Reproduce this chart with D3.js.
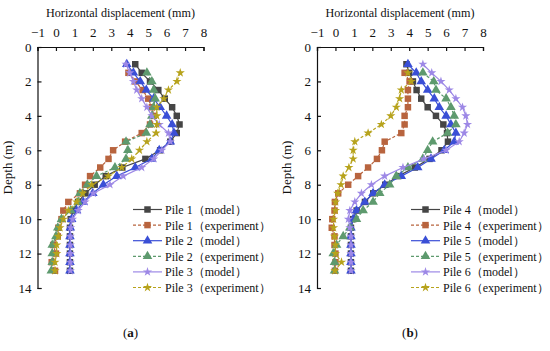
<!DOCTYPE html>
<html><head><meta charset="utf-8">
<script src="https://cdn.jsdelivr.net/npm/d3@7"></script>
<style>
body{margin:0;background:#fff;}
text{font-family:"Liberation Serif","Times New Roman",serif;fill:#111;}
</style></head>
<body><svg id="c" width="550" height="351"></svg>
<script>
const depthModel = [1,1.5,2,2.5,3,3.5,4,4.5,5,5.5,6,6.5,7,7.5,8,8.5,9,9.5,10,10.5,11,11.5,12,12.5,13];
const depthExp = depthModel.slice(1);
const xTicks = [-1,0,1,2,3,4,5,6,7,8];
const yTicks = [0,2,4,6,8,10,12,14];

// Panel (a)
const pile1Model = [4.3,4.65,5.1,5.55,5.9,6.3,6.55,6.7,6.55,6.2,5.65,4.85,3.6,2.7,2.1,1.6,1.2,0.95,0.8,0.76,0.76,0.76,0.76,0.76,0.76];
const pile1Exp = [3.93,4.3,4.7,5.0,5.2,5.3,5.1,4.65,3.75,3.1,2.85,2.4,1.85,1.58,1.3,0.67,0.4,0.3,0.13,0.1,-0.15,0.0,-0.23,-0.05];
const pile2Model = [3.84,4.2,4.57,4.9,5.3,5.65,6.0,6.3,6.4,6.2,5.6,5.2,4.3,3.3,2.57,2.0,1.48,1.12,0.85,0.78,0.76,0.76,0.76,0.76,0.76];
const pile2Exp = [4.93,5.2,5.3,5.38,5.29,5.2,5.1,4.9,3.8,3.9,3.8,3.2,2.2,1.7,1.3,1.2,0.8,0.3,0.1,0.0,-0.2,-0.2,-0.2,-0.25];
const pile3Model = [3.8,4.0,4.2,4.38,4.65,4.93,5.2,5.6,6.1,6.2,5.74,5.3,4.65,3.65,2.93,2.03,1.58,1.21,0.9,0.8,0.78,0.78,0.78,0.78,0.78];
const pile3Exp = [6.74,6.56,6.1,5.85,5.47,5.47,5.47,5.43,4.93,4.53,4.11,3.57,2.84,1.94,1.45,1.12,0.67,0.4,0.22,0.13,0.04,0.04,-0.05,-0.05];

// Panel (b)
const pile4Model = [3.85,4.0,4.2,4.4,4.65,5.0,5.45,5.85,6.05,6.1,5.75,5.1,4.3,3.4,2.7,2.05,1.6,1.15,0.96,0.84,0.84,0.84,0.84,0.84,0.84];
const pile4Exp = [3.75,4.02,3.93,3.93,3.93,3.75,3.75,3.57,2.67,2.52,2.25,1.77,1.23,0.69,0.15,-0.03,-0.05,-0.17,-0.2,-0.05,-0.05,0.0,0.0,-0.03];
const pile5Model = [3.93,4.38,4.65,5.0,5.36,5.63,6.0,6.26,6.53,6.44,5.9,5.18,4.46,3.57,2.67,2.04,1.59,1.14,0.96,0.84,0.84,0.84,0.84,0.84,0.84];
const pile5Exp = [4.74,5.33,5.45,6.0,6.26,6.44,6.53,6.08,5.27,5.0,4.74,3.93,3.3,2.94,2.4,2.04,1.5,1.14,0.78,0.42,0.06,-0.12,-0.05,-0.05];
const pile6Model = [4.74,5.22,5.72,6.17,6.53,6.89,7.07,7.16,6.98,6.71,6.0,4.8,3.66,2.67,1.95,1.41,1.05,0.78,0.7,0.78,0.84,0.84,0.84,0.84,0.84];
const pile6Exp = [3.93,4.11,3.57,3.48,3.3,3.0,2.49,1.77,1.05,0.96,0.96,0.73,0.42,0.3,0.12,0.01,0.0,-0.1,-0.1,-0.05,0.0,0.0,0.33,-0.03];

const panelA = [
  {name:"Pile 1（model）", d:depthModel, v:pile1Model, color:"#454545", marker:"square", dash:false},
  {name:"Pile 1（experiment）", d:depthExp, v:pile1Exp, color:"#b8643e", marker:"square", dash:true},
  {name:"Pile 2（model）", d:depthModel, v:pile2Model, color:"#3a4fd6", marker:"triangle", dash:false},
  {name:"Pile 2（experiment）", d:depthExp, v:pile2Exp, color:"#5e9a6e", marker:"triangle", dash:true},
  {name:"Pile 3（model）", d:depthModel, v:pile3Model, color:"#9d88e6", marker:"star", dash:false},
  {name:"Pile 3（experiment）", d:depthExp, v:pile3Exp, color:"#b7a31c", marker:"star", dash:true}
];
const panelB = [
  {name:"Pile 4（model）", d:depthModel, v:pile4Model, color:"#454545", marker:"square", dash:false},
  {name:"Pile 4（experiment）", d:depthExp, v:pile4Exp, color:"#b8643e", marker:"square", dash:true},
  {name:"Pile 5（model）", d:depthModel, v:pile5Model, color:"#3a4fd6", marker:"triangle", dash:false},
  {name:"Pile 5（experiment）", d:depthExp, v:pile5Exp, color:"#5e9a6e", marker:"triangle", dash:true},
  {name:"Pile 6（model）", d:depthModel, v:pile6Model, color:"#9d88e6", marker:"star", dash:false},
  {name:"Pile 6（experiment）", d:depthExp, v:pile6Exp, color:"#b7a31c", marker:"star", dash:true}
];

const svg = d3.select("#c");
const symType = {square:d3.symbolSquare, triangle:d3.symbolTriangle, star:d3.symbolStar};
const symSize = {square:42, triangle:40, star:26};

function drawPanel(series, left, letter, legX) {
  const top = 47, w = 166, h = 241;
  const x = d3.scaleLinear().domain([-1,8]).range([left, left+w]);
  const y = d3.scaleLinear().domain([0,14]).range([top, top+h]);
  const g = svg.append("g");

  const xa = g.append("g").attr("transform",`translate(0,${top})`)
    .call(d3.axisTop(x).tickValues(xTicks).tickSize(-4).tickPadding(10).tickFormat(d=>d<0?"\u2212"+Math.abs(d):d));
  const ya = g.append("g").attr("transform",`translate(${left},0)`)
    .call(d3.axisLeft(y).tickValues(yTicks).tickSize(-4).tickPadding(6));
  [xa,ya].forEach(a=>{
    a.select(".domain").attr("stroke","#111").attr("stroke-width",1.2);
    a.selectAll(".tick line").attr("stroke","#111").attr("stroke-width",1.2);
    a.selectAll("text").attr("font-size",13).attr("fill","#111");
  });

  g.append("text").attr("x",left+w/2).attr("y",17).attr("text-anchor","middle")
    .attr("font-size",13).attr("textLength",149).attr("lengthAdjust","spacingAndGlyphs")
    .text("Horizontal displacement (mm)");
  g.append("text").attr("transform",`translate(${left-26},${top+h/2}) rotate(-90)`)
    .attr("text-anchor","middle").attr("font-size",13).text("Depth (m)");

  const line = d3.line().x(p=>x(p[0])).y(p=>y(p[1]));
  series.forEach(s=>{
    const pts = s.v.map((v,i)=>[v,s.d[i]]);
    g.append("path").attr("d",line(pts)).attr("fill","none")
      .attr("stroke",s.color).attr("stroke-width",1.2)
      .attr("stroke-dasharray",s.dash?"3,2":null);
    g.selectAll(null).data(pts).enter().append("path")
      .attr("d",d3.symbol().type(symType[s.marker]).size(symSize[s.marker]))
      .attr("transform",p=>`translate(${x(p[0])},${y(p[1])})`)
      .attr("fill",s.color);
  });

  // legend
  const ly0 = 209.5, step = 15.6;
  series.forEach((s,i)=>{
    const yy = ly0 + i*step;
    g.append("line").attr("x1",legX).attr("x2",legX+29).attr("y1",yy).attr("y2",yy)
      .attr("stroke",s.color).attr("stroke-width",1.2).attr("stroke-dasharray",s.dash?"3,2":null);
    g.append("path").attr("d",d3.symbol().type(symType[s.marker]).size(symSize[s.marker]))
      .attr("transform",`translate(${legX+14.5},${yy})`).attr("fill",s.color);
    g.append("text").attr("x",legX+32).attr("y",yy+4.5).attr("font-size",12)
      .text(s.name);
  });

  const lab = g.append("text").attr("x",left+w/2+10).attr("y",337).attr("text-anchor","middle").attr("font-size",13);
  lab.append("tspan").text("(");
  lab.append("tspan").attr("font-weight","bold").text(letter);
  lab.append("tspan").text(")");
}

drawPanel(panelA, 37.5, "a", 133);
drawPanel(panelB, 317, "b", 411);
</script></body></html>
